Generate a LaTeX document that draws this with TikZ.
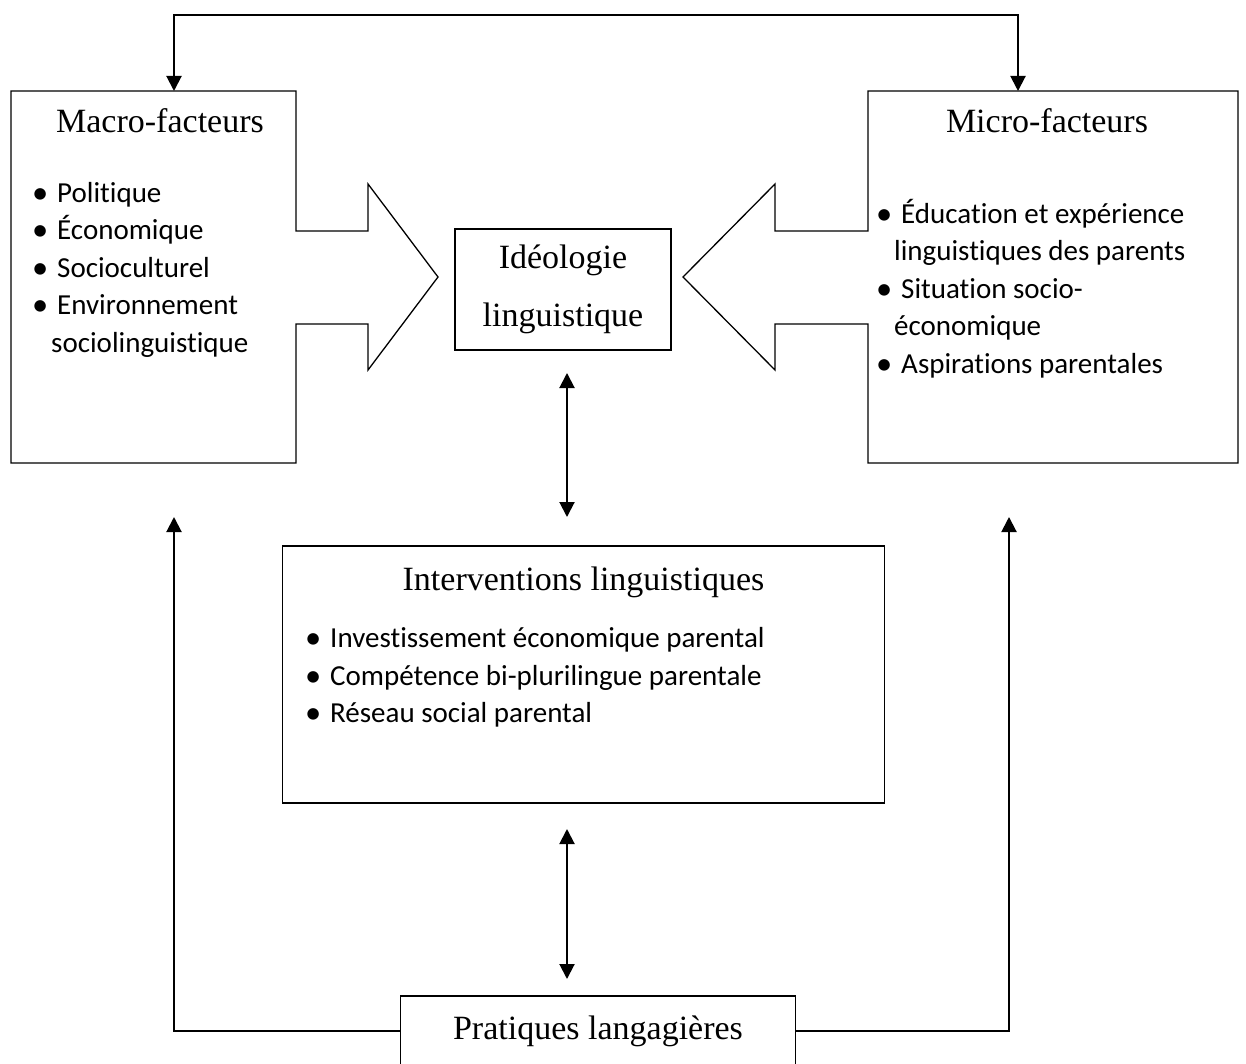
\documentclass[tikz,border=0pt]{standalone}
\usepackage{fontspec}
\setmainfont{Liberation Serif}
\newfontfamily\calibri[Ligatures=NoCommon, Contextuals=NoAlternate]{Carlito}
\usetikzlibrary{arrows.meta, positioning}
\newcommand{\bul}{\makebox[20pt][l]{\hspace{-5pt}\raisebox{-0.6pt}{\scalebox{1.12}{\textbullet}}}}

\begin{document}
\begin{tikzpicture}[x=1pt, y=-1pt,
    frame/.style={rectangle, draw=black, line width=1.3pt, inner sep=0pt, outer sep=0pt},
    title/.style={font=\fontsize{34}{40}\selectfont, anchor=base, inner sep=0pt},
    items/.style={font=\calibri\fontsize{29}{37.5}\selectfont, align=left, anchor=north west, inner sep=0pt},
    arrow/.style={-{Triangle[width=15pt,length=15pt]}, line width=2pt},
    dblarrow/.style={{Triangle[width=15pt,length=15pt]}-{Triangle[width=15pt,length=15pt]}, line width=2pt}
]
\useasboundingbox (0,0) rectangle (1246,1064);

% Macro-facteurs
\node[frame, draw=none, minimum width=285pt, minimum height=372pt] (macro) at (153.5,277) {};
\draw[line width=1.3pt] (macro.north west) -- (macro.north east) -- (296,231) -- (368,231) -- (368,184) -- (438,277) -- (368,370) -- (368,324) -- (296,324) -- (macro.south east) -- (macro.south west) -- cycle;
\node[title] (macrot) at (160,133) {Macro-facteurs};
\node[items] (macrol) at (37,176) {\strut\bul Politique\\ \bul Économique\\ \bul Socioculturel\\ \bul Environnement\\ \hspace{14pt}sociolinguistique};

% Micro-facteurs
\node[frame, draw=none, minimum width=370pt, minimum height=372pt] (micro) at (1053,277) {};
\draw[line width=1.3pt] (micro.north east) -- (micro.north west) -- (868,231) -- (775,231) -- (775,184) -- (683,277) -- (775,370) -- (775,324) -- (868,324) -- (micro.south west) -- (micro.south east) -- cycle;
\node[title] (microt) at (1047,133) {Micro-facteurs};
\node[items] (microl) at (881,197) {\strut\bul Éducation et expérience\\ \hspace{13pt}linguistiques des parents\\ \bul Situation socio-\\ \hspace{13pt}économique\\ \bul Aspirations parentales};

% Ideologie
\node[frame, minimum width=216pt, minimum height=121pt, align=center, font=\fontsize{34}{58}\selectfont] (ideo) at (563,289.5) {Idéologie\\linguistique};

% Interventions
\node[frame, minimum width=602pt, minimum height=257pt] (interv) at (583.5,674.5) {};
\node[title] (intervt) at (583.5,590) {Interventions linguistiques};
\node[items] (intervl) at (310,621.5) {\strut\bul Investissement économique parental\\ \bul Compétence bi-plurilingue parentale\\ \bul Réseau social parental};

% Pratiques
\node[frame, minimum width=395pt, minimum height=70pt, font=\fontsize{34}{40}\selectfont] (prat) at (598,1031) {Pratiques langagières};

% connectors
\coordinate (topl) at (174,15);
\coordinate (topr) at (1018,15);
\coordinate (lup) at (174,517);
\coordinate (rup) at (1009,517);
\coordinate (midx) at (567,0);

\draw[dblarrow] (topl |- macro.north) -- (topl) -- (topr) -- (topr |- micro.north);
\draw[dblarrow, shorten <=23pt, shorten >=29pt] (midx |- ideo.south) -- (midx |- interv.north);
\draw[dblarrow, shorten <=26pt, shorten >=17pt] (midx |- interv.south) -- (midx |- prat.north);
\draw[arrow] (prat.west) -| (lup);
\draw[arrow] (prat.east) -| (rup);

\end{tikzpicture}
\end{document}
